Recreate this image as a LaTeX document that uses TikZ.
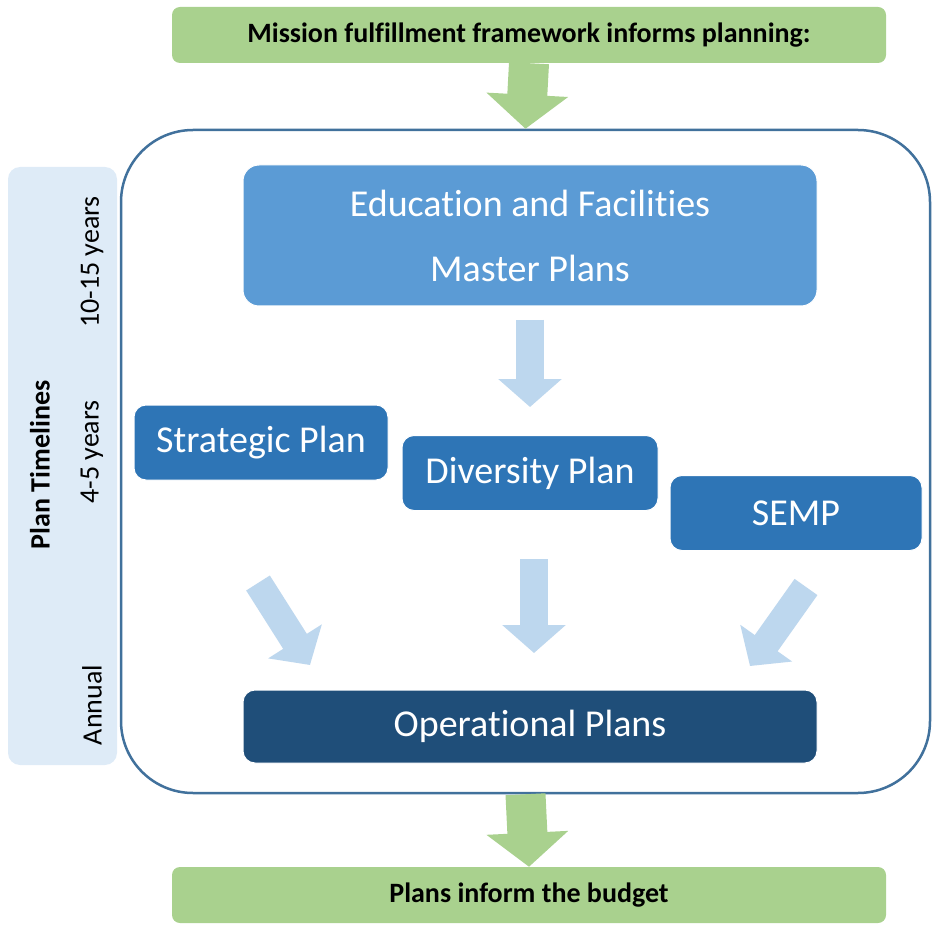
\documentclass[tikz,border=0pt]{standalone}
\usepackage{fontspec}
\setmainfont[Ligatures=NoCommon]{Carlito}
\usetikzlibrary{arrows.meta}
\definecolor{leaf}{HTML}{A9D18E}
\definecolor{sky}{HTML}{BDD7EE}
\definecolor{pale}{HTML}{DEEBF7}
\definecolor{midblue}{HTML}{5B9BD5}
\definecolor{planblue}{HTML}{2E75B6}
\definecolor{navy}{HTML}{1F4E79}
\definecolor{rim}{HTML}{41719C}
\begin{document}
\begin{tikzpicture}[x=1pt,y=-1pt,
  banner/.style={fill=leaf,rounded corners=8pt,minimum width=714pt,minimum height=56pt,inner sep=0pt,
    font=\fontsize{28}{30}\selectfont\bfseries},
  plan/.style={fill=planblue,draw=white,line width=1pt,rounded corners=12pt,text=white,inner sep=0pt,
    minimum width=254pt,minimum height=75pt,font=\fontsize{38}{40}\selectfont},
  side/.style={rotate=90,font=\fontsize{28}{30}\selectfont},
  greenarrow/.style={leaf,line width=40pt,-{Triangle[length=34pt,width=80pt]}},
  lightarrow/.style={sky,line width=28pt,-{Triangle[length=28pt,width=62pt]}}]
\useasboundingbox (0,0) rectangle (932,925);
% sidebar with the time spans
\fill[pale,rounded corners=12pt] (8,167) rectangle (117,765);
\node[side,font=\fontsize{28}{30}\selectfont\bfseries] (timelines) at (40,465) {Plan Timelines};
\node[side] (long) at (92,262) {10-15 years};
\node[side] (mid) at (92,452) {4-5 years};
\node[side] (annual) at (92,705) {Annual};
% frame round the plans
\node[draw=rim,line width=2.5pt,fill=white,rounded corners=72pt,minimum width=809pt,minimum height=663pt,inner sep=0pt] (frame) at (525.5,461.5) {};
\node[banner] (mission) at (529,35) {Mission fulfillment framework informs planning:};
\node[banner] (budget) at (529,895) {Plans inform the budget};
\draw[greenarrow] (mission.south) -- (frame.north);
\draw[greenarrow] (frame.south) -- (budget.north);
% the plans
\node[plan,fill=midblue,rounded corners=16pt,minimum width=574pt,minimum height=141pt,align=center,
  font=\fontsize{38}{65}\selectfont] (master) at (530,235.5) {Education and Facilities\\Master Plans};
\node[plan] (strategic) at (261,442.5) {Strategic Plan};
\node[plan,minimum width=256pt] (diversity) at (530,473) {Diversity Plan};
\node[plan,minimum width=252pt] (semp) at (796,513) {SEMP};
\node[plan,fill=navy,minimum width=574pt,minimum height=73pt] (operational) at (530,726.5) {Operational Plans};
% light arrows between the plans
\coordinate (m1) at (530,320);
\coordinate (m2) at (530,407);
\coordinate (s1) at (258,583);
\coordinate (s2) at (310,665);
\coordinate (d1) at (534,559);
\coordinate (d2) at (534,653);
\coordinate (e1) at (806,587);
\coordinate (e2) at (750,666);
\draw[lightarrow] (m1) -- (m2);
\draw[lightarrow] (s1) -- (s2);
\draw[lightarrow] (d1) -- (d2);
\draw[lightarrow] (e1) -- (e2);
\end{tikzpicture}
\end{document}
